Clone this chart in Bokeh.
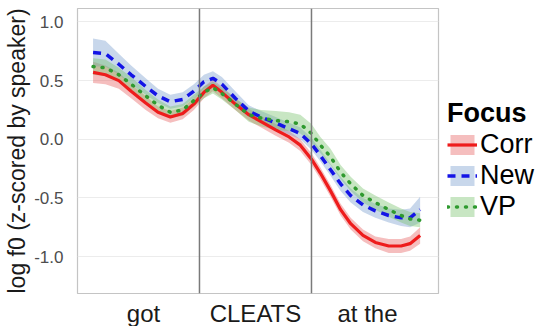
from bokeh.plotting import figure
from bokeh.models import ColumnDataSource, Legend, LegendItem, Span, Range1d, FixedTicker, PrintfTickFormatter
from bokeh.embed import file_html
from bokeh.resources import INLINE

# normalized time (word units: got 0-1, CLEATS 1-2, at the 2-3)
t = [0.05, 0.16, 0.28, 0.39, 0.52, 0.63, 0.74, 0.85, 0.95, 1.04, 1.12, 1.2, 1.32, 1.44,
     1.55, 1.68, 1.8, 1.9, 2.0, 2.08, 2.17, 2.26, 2.35, 2.46, 2.57, 2.69, 2.8, 2.88, 2.97]

corr = [0.57, 0.55, 0.50, 0.41, 0.31, 0.23, 0.19, 0.22, 0.30, 0.40, 0.46, 0.40, 0.30, 0.21,
        0.15, 0.08, 0.02, -0.05, -0.17, -0.29, -0.44, -0.60, -0.72, -0.82, -0.88, -0.91, -0.91, -0.89, -0.82]
new = [0.74, 0.73, 0.64, 0.55, 0.45, 0.37, 0.32, 0.34, 0.41, 0.49, 0.52, 0.47, 0.35, 0.24,
       0.19, 0.14, 0.09, 0.05, -0.04, -0.14, -0.26, -0.38, -0.48, -0.56, -0.61, -0.65, -0.67, -0.67, -0.60]
vp = [0.62, 0.61, 0.55, 0.47, 0.37, 0.29, 0.23, 0.25, 0.33, 0.40, 0.44, 0.39, 0.30, 0.21,
      0.18, 0.16, 0.15, 0.13, 0.05, -0.05, -0.15, -0.28, -0.38, -0.48, -0.54, -0.60, -0.65, -0.68, -0.69]

corr_se = [0.09, 0.08, 0.07, 0.06, 0.06, 0.05, 0.05, 0.05, 0.05, 0.05, 0.05, 0.05, 0.05, 0.05, 0.05,
           0.05, 0.05, 0.05, 0.05, 0.05, 0.05, 0.05, 0.05, 0.05, 0.05, 0.06, 0.06, 0.06, 0.07]
new_se = [0.12, 0.11, 0.09, 0.08, 0.07, 0.06, 0.06, 0.06, 0.06, 0.06, 0.06, 0.06, 0.06, 0.05, 0.05,
          0.05, 0.05, 0.05, 0.05, 0.05, 0.05, 0.06, 0.06, 0.06, 0.06, 0.06, 0.07, 0.08, 0.11]
vp_se = [0.07, 0.07, 0.06, 0.06, 0.05, 0.05, 0.05, 0.05, 0.05, 0.05, 0.05, 0.05, 0.05, 0.06, 0.07,
         0.08, 0.08, 0.08, 0.08, 0.07, 0.07, 0.06, 0.06, 0.06, 0.06, 0.06, 0.06, 0.06, 0.06]

word_ticks = [0.5, 1.5, 2.5]
word_labels = ["got", "CLEATS", "at the"]
word_bounds = [1.0, 2.0]
y_ticks = [-1.0, -0.5, 0.0, 0.5, 1.0]

FONT = "Liberation Sans"

p = figure(frame_width=361, frame_height=285, output_backend="svg", toolbar_location=None,
           x_range=Range1d(-0.089, 3.134), y_range=Range1d(-1.315, 1.115),
           min_border_left=77, min_border_right=113, min_border_top=8, min_border_bottom=33)

series = [
    ("Corr", corr, corr_se, "#ee1c1c", "#e65c5c", "solid", 3.2),
    ("New", new, new_se, "#1414e6", "#759bcd", "8 6", 3.5),
    ("VP", vp, vp_se, "#2f9a2f", "#75c069", "1 8", 3.5),
]

bands = []
for name, vals, se, lc, fc, dash, w in series:
    src = ColumnDataSource(dict(t=t, y=vals,
                                lo=[v - s for v, s in zip(vals, se)],
                                hi=[v + s for v, s in zip(vals, se)]))
    b = p.varea(x="t", y1="lo", y2="hi", source=src, fill_color=fc, fill_alpha=0.4)
    bands.append((b, src))

items = []
for (name, vals, se, lc, fc, dash, w), (b, src) in zip(series, bands):
    ln = p.line(x="t", y="y", source=src, line_color=lc, line_width=w, line_dash=dash,
                line_cap="round" if dash == "1 8" else "butt")
    items.append(LegendItem(label=name, renderers=[b, ln]))

for xb in word_bounds:
    p.add_layout(Span(location=xb, dimension="height", line_color="#7a7a7a", line_width=1.5))

# axes
p.xaxis.ticker = FixedTicker(ticks=word_ticks)
p.xaxis.major_label_overrides = {tk: lb for tk, lb in zip(word_ticks, word_labels)}
p.xaxis.major_label_text_font = FONT
p.xaxis.major_label_text_font_size = "24px"
p.xaxis.major_label_text_color = "#1a1a1a"
p.xaxis.major_label_standoff = 6
p.yaxis.ticker = FixedTicker(ticks=y_ticks)
p.yaxis.formatter = PrintfTickFormatter(format="%.1f")
p.yaxis.major_label_text_font = FONT
p.yaxis.major_label_text_font_size = "17px"
p.yaxis.major_label_text_color = "#4d4d4d"
p.yaxis.major_label_standoff = 14
p.yaxis.axis_label = "log f0 (z-scored by speaker)"
p.yaxis.axis_label_text_font = FONT
p.yaxis.axis_label_text_font_size = "23px"
p.yaxis.axis_label_text_font_style = "normal"
p.yaxis.axis_label_text_color = "#1a1a1a"
p.yaxis.axis_label_standoff = 1
for ax in (p.xaxis, p.yaxis):
    ax.axis_line_color = None
    ax.major_tick_line_color = None
    ax.minor_tick_line_color = None
    ax.major_tick_out = 0
    ax.major_tick_in = 0
    ax.minor_tick_out = 0
    ax.minor_tick_in = 0

p.xgrid.grid_line_color = None
p.ygrid.grid_line_color = "#ececec"
p.ygrid.grid_line_width = 1
p.outline_line_color = "#c4c4c4"
p.outline_line_width = 1.2
p.background_fill_color = "white"
p.border_fill_color = "white"

legend = Legend(items=items, location=(9, 71), title="Focus",
                title_text_font=FONT, title_text_font_size="27px", title_text_font_style="bold",
                title_text_color="#000000", title_standoff=0,
                label_text_font=FONT, label_text_font_size="27px", label_text_color="#000000",
                glyph_width=30, glyph_height=25, label_height=25, label_standoff=3,
                spacing=0, padding=0, margin=0, border_line_color=None,
                background_fill_alpha=0)
p.add_layout(legend, "right")

open("out.html", "w").write(file_html(p, INLINE))
